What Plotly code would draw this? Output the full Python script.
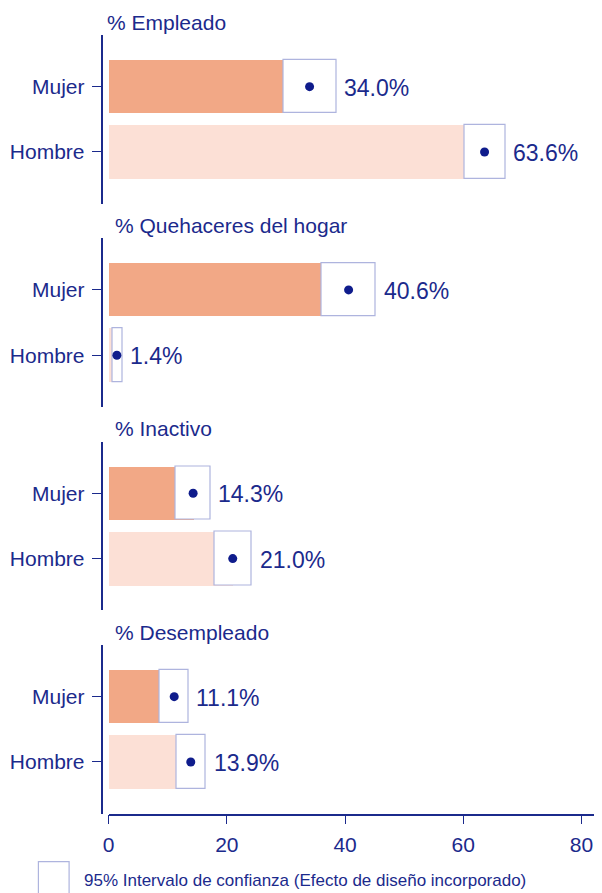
import plotly.graph_objects as go

# ---- data ----
panels = ["% Empleado", "% Quehaceres del hogar", "% Inactivo", "% Desempleado"]
groups = ["Mujer", "Hombre"]
estimates = [[34.0, 63.6], [40.6, 1.4], [14.3, 21.0], [11.1, 13.9]]
ci_low = [[29.6, 60.2], [36.0, 0.6], [11.4, 17.9], [8.7, 11.5]]
ci_high = [[38.5, 67.1], [45.2, 2.3], [17.2, 24.2], [13.5, 16.4]]
x_ticks = [0, 20, 40, 60, 80]
legend_text = "95% Intervalo de confianza (Efecto de diseño incorporado)"

# ---- style ----
OFF = 8                      # page body margin of the browser
VIS_W = 594                  # visible page width in the screenshot
W, H = VIS_W - OFF, 893 - OFF
FONT = "Liberation Sans, Arial, sans-serif"
TXT = "#1B2A8C"
AXC = "#1B2A8C"
BAR_COLORS = {"Mujer": "#F2A886", "Hombre": "#FCE0D6"}
BOX_LINE = "#AEB4DE"
DOT = "#0F1C8C"
FS = 21


def px(v):
    return v - OFF


x0_px = px(108.6)
x80_px = px(581.5)
x_max = 80 * (W - x0_px) / (x80_px - x0_px)
yaxis_px = px(101.5)
panel_tops = [px(v) for v in (35.0, 238.3, 441.6, 645.0)]
title_x = [px(v) for v in (105.0, 112.5, 112.5, 112.5)]
panel_h = 168.6

fig = go.Figure()
annotations = []

for i, title in enumerate(panels):
    k = "" if i == 0 else str(i + 1)
    xa, ya = "x" + k, "y" + k
    est = estimates[i]
    lo = ci_low[i]
    hi = ci_high[i]
    for j, g in enumerate(groups):
        fig.add_trace(go.Bar(
            x=[est[j]], y=[g], orientation="h", base=0, width=0.82,
            marker=dict(color=BAR_COLORS[g], line=dict(width=0)),
            xaxis=xa, yaxis=ya, showlegend=False, hoverinfo="skip"))
    fig.add_trace(go.Bar(
        x=[h - l for h, l in zip(hi, lo)], y=groups, base=lo, orientation="h",
        width=0.82, marker=dict(color="white", line=dict(color=BOX_LINE, width=1.2)),
        xaxis=xa, yaxis=ya, showlegend=False, hoverinfo="skip"))
    fig.add_trace(go.Scatter(
        x=est, y=groups, mode="markers",
        marker=dict(color=DOT, size=9), xaxis=xa, yaxis=ya,
        showlegend=False, hoverinfo="skip"))
    for j, g in enumerate(groups):
        annotations.append(dict(
            x=hi[j], y=g, xref=xa, yref=ya, text=f"{est[j]:.1f}%",
            showarrow=False, xanchor="left", yanchor="middle", xshift=6, yshift=-1,
            font=dict(family=FONT, size=FS + 2, color=TXT)))
    annotations.append(dict(
        x=title_x[i] / W, y=1 - (panel_tops[i] - 13) / H, xref="paper", yref="paper",
        text=title, showarrow=False, xanchor="left", yanchor="middle",
        font=dict(family=FONT, size=FS, color=TXT)))

    top = panel_tops[i]
    bot = top + panel_h
    dom = [1 - bot / H, 1 - top / H]
    last = i == len(panels) - 1
    fig.layout["xaxis" + k] = dict(
        domain=[x0_px / W, 1], range=[0, x_max],
        anchor=ya, visible=last, showgrid=False, zeroline=False,
        showline=last, linecolor=AXC, linewidth=1.5,
        ticks="outside", ticklen=9, tickwidth=1.3, tickcolor=AXC,
        tickvals=x_ticks, ticktext=[str(v) for v in x_ticks],
        tickfont=dict(family=FONT, size=FS, color=TXT),
        ticklabelstandoff=2, ticklabeloverflow="allow", automargin=False,
        **({} if i == 0 else {"matches": "x"}))
    fig.layout["yaxis" + k] = dict(
        domain=dom, anchor="free", position=yaxis_px / W,
        type="category", categoryorder="array", categoryarray=["Hombre", "Mujer"],
        range=[-0.79, 1.79], showgrid=False, zeroline=False,
        showline=True, linecolor=AXC, linewidth=1.5,
        ticks="outside", ticklen=9, tickwidth=1.3, tickcolor=AXC,
        tickfont=dict(family=FONT, size=FS, color=TXT), ticklabelstandoff=3,
        automargin=False)

shapes = [dict(type="rect", xref="paper", yref="paper",
               x0=px(38.4) / W, x1=px(69.1) / W, y0=1 - px(897) / H, y1=1 - px(861.7) / H,
               line=dict(color=BOX_LINE, width=1.2), fillcolor="white")]
annotations.append(dict(
    x=px(81.5) / W, y=1 - px(880.5) / H, xref="paper", yref="paper", text=legend_text,
    showarrow=False, xanchor="left", yanchor="middle",
    font=dict(family=FONT, size=17, color=TXT)))

fig.update_layout(
    width=W, height=H, margin=dict(l=0, r=0, t=0, b=0, pad=0, autoexpand=False),
    paper_bgcolor="white", plot_bgcolor="white",
    barmode="overlay", bargap=0, showlegend=False,
    annotations=annotations, shapes=shapes,
    font=dict(family=FONT, color=TXT))

fig.write_html("out.html")
